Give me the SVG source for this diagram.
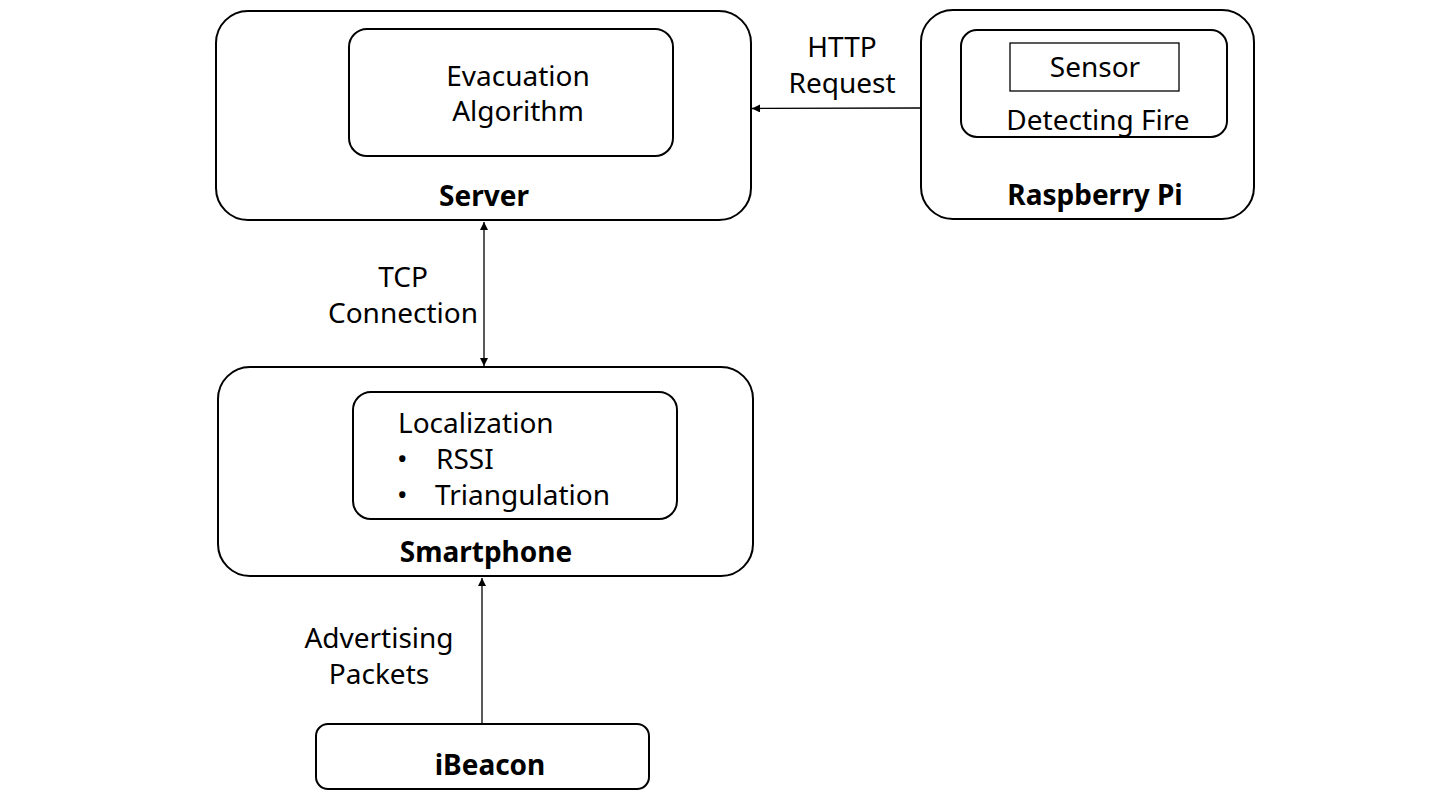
<svg xmlns="http://www.w3.org/2000/svg" width="1431" height="796" viewBox="0 0 1431 796">
<defs>
<style>
.box{fill:#fff;stroke:#000;stroke-width:2}
.t{font-family:"Noto Sans","Liberation Sans",sans-serif;font-size:28px;fill:#000}
.c{text-anchor:middle}
.b{font-weight:bold}
.ln{stroke:#000;stroke-width:1.3;fill:none}
</style>
<marker id="ah" viewBox="0 0 10 10" refX="10" refY="5" markerWidth="8" markerHeight="8" orient="auto-start-reverse" markerUnits="userSpaceOnUse">
<path d="M0,0 L10,5 L0,10 z" fill="#000"/>
</marker>
</defs>
<rect width="1431" height="796" fill="#fff"/>
<g id="connectors">
<line class="ln" x1="921" y1="108" x2="752" y2="108.5" marker-end="url(#ah)"/>
<line class="ln" x1="484" y1="222" x2="484" y2="366" marker-start="url(#ah)" marker-end="url(#ah)"/>
<line class="ln" x1="482" y1="723" x2="482" y2="578" marker-end="url(#ah)"/>
<text class="t c" x="842" y="57">HTTP</text>
<text class="t c" x="842" y="93">Request</text>
<text class="t c" x="403" y="287">TCP</text>
<text class="t c" x="403" y="323">Connection</text>
<text class="t c" x="379" y="648">Advertising</text>
<text class="t c" x="379" y="684">Packets</text>
</g>
<g id="server">
<rect class="box" x="216" y="11" width="535" height="209" rx="32"/>
<text class="t c b" x="484" y="206">Server</text>
</g>
<g id="evacuation">
<rect class="box" x="349" y="29" width="324" height="127" rx="18"/>
<text class="t c" x="518" y="86">Evacuation</text>
<text class="t c" x="518" y="121">Algorithm</text>
</g>
<g id="raspberry">
<rect class="box" x="921" y="10" width="333" height="209" rx="32"/>
<text class="t c b" x="1095" y="205">Raspberry Pi</text>
</g>
<g id="detecting">
<rect class="box" x="961" y="30" width="266" height="107" rx="16"/>
<text class="t c" x="1098" y="130">Detecting Fire</text>
</g>
<g id="sensor">
<rect x="1010" y="43" width="169" height="48" fill="#fff" stroke="#000" stroke-width="1.3"/>
<text class="t c" x="1095" y="77">Sensor</text>
</g>
<g id="smartphone">
<rect class="box" x="218" y="367" width="535" height="209" rx="32"/>
<text class="t c b" x="486" y="562">Smartphone</text>
</g>
<g id="localization">
<rect class="box" x="353" y="392" width="324" height="127" rx="18"/>
<text class="t" x="398" y="433">Localization</text>
<text class="t" x="397" y="469">•</text>
<text class="t" x="436" y="469">RSSI</text>
<text class="t" x="397" y="505">•</text>
<text class="t" x="435" y="505">Triangulation</text>
</g>
<g id="ibeacon">
<rect class="box" x="316" y="724" width="333" height="65" rx="12"/>
<text class="t c b" x="490" y="775">iBeacon</text>
</g>
</svg>
